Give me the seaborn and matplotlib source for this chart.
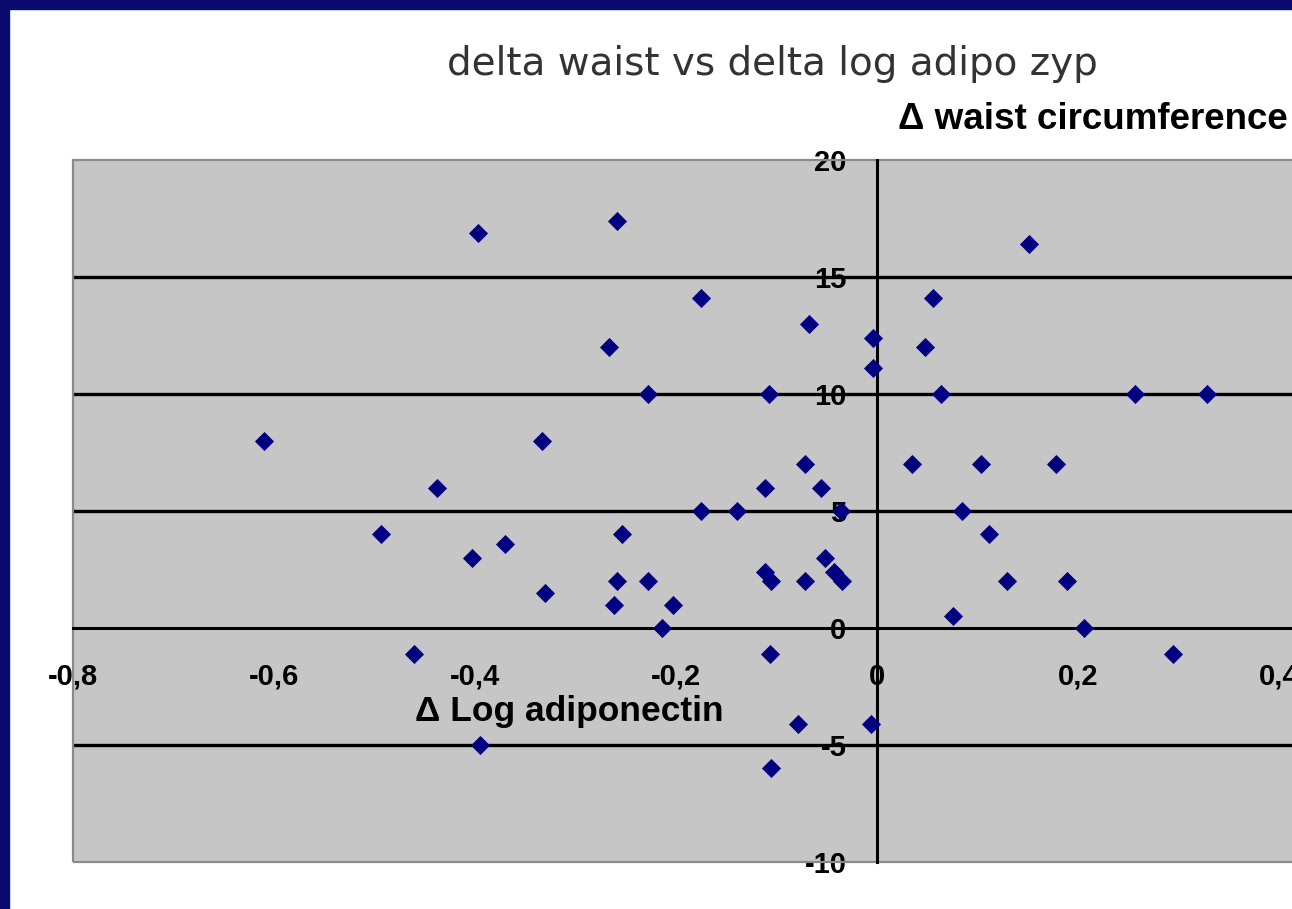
import matplotlib
matplotlib.use("Agg")
import matplotlib.pyplot as plt
from matplotlib.patches import Rectangle
import seaborn as sns

# delta log adiponectin (x) and delta waist circumference (y)
delta_log_adipo = [
    -0.61, -0.397, -0.259, 0.151, -0.175, 0.056, -0.068, -0.004, -0.267, 0.048,
    -0.004, -0.228, -0.107, 0.064, 0.257, 0.328, -0.333, -0.072, 0.035, 0.103,
    0.178, -0.438, -0.111, -0.056, -0.175, -0.139, -0.036, 0.085, -0.494, -0.254,
    0.111, -0.37, -0.403, -0.052, -0.043, -0.035, -0.33, -0.259, -0.228, -0.111,
    -0.105, -0.072, 0.129, 0.189, -0.262, -0.203, 0.076, -0.214, 0.206, -0.461,
    -0.106, 0.295, -0.079, -0.006, -0.395, -0.105,
]
delta_waist = [
    8.0, 16.9, 17.4, 16.4, 14.1, 14.1, 13.0, 12.4, 12.0, 12.0,
    11.1, 10.0, 10.0, 10.0, 10.0, 10.0, 8.0, 7.0, 7.0, 7.0,
    7.0, 6.0, 6.0, 6.0, 5.0, 5.0, 5.0, 5.0, 4.0, 4.0,
    4.0, 3.6, 3.0, 3.0, 2.4, 2.0, 1.5, 2.0, 2.0, 2.4,
    2.0, 2.0, 2.0, 2.0, 1.0, 1.0, 0.5, 0.0, 0.0, -1.1,
    -1.1, -1.1, -4.1, -4.1, -5.0, -6.0,
]

x_ticks = [-0.8, -0.6, -0.4, -0.2, 0.0, 0.2, 0.4, 0.6]
x_tick_labels = ["-0,8", "-0,6", "-0,4", "-0,2", "0", "0,2", "0,4", "0,6"]
y_ticks = [-10, -5, 0, 5, 10, 15, 20]
y_tick_labels = ["-10", "-5", "0", "5", "10", "15", "20"]

title = "delta waist vs delta log adipo zyp"
y_label = "\u0394 waist circumference"
x_label = "\u0394 Log adiponectin"

W, H = 1292, 909
sns.set_style("white")
plt.rcParams["font.family"] = ["Liberation Sans", "DejaVu Sans"]

fig = plt.figure(figsize=(W / 100, H / 100), dpi=100)
fig.patch.set_facecolor("white")

# plot area runs off the right side of the picture
left, top, bottom = 73, 160, 862
ax = fig.add_axes([left / W, (H - bottom) / H, 1407 / W, (bottom - top) / H])
ax.set_facecolor("#c6c6c6")
ax.set_xlim(-0.8, 0.6)
ax.set_ylim(-10, 20)

for v in y_ticks[1:-1]:
    if v != 0:
        ax.axhline(v, color="black", lw=2.4, zorder=1)

sns.scatterplot(x=delta_log_adipo, y=delta_waist, marker="D", color="#000080",
                s=95, linewidth=0, ax=ax, zorder=3)

for side in ["top", "right"]:
    ax.spines[side].set_visible(False)
for side in ["left", "bottom"]:
    ax.spines[side].set_position(("data", 0))
    ax.spines[side].set_color("black")
    ax.spines[side].set_linewidth(2.2)
    ax.spines[side].set_zorder(2)
ax.add_patch(Rectangle((0, 0), 1, 1, transform=ax.transAxes, fill=False,
                       edgecolor="#8a8a8a", lw=1.6, zorder=2, clip_on=False))

ax.set_xticks(x_ticks)
ax.set_xticklabels(x_tick_labels)
ax.set_yticks(y_ticks)
ax.set_yticklabels(y_tick_labels)
ax.tick_params(axis="x", direction="out", length=6, width=1.5, pad=19,
               labelsize=21, colors="black")
ax.tick_params(axis="y", direction="out", length=9, width=1.5, pad=13,
               labelsize=21, colors="black")
for lab in ax.get_xticklabels() + ax.get_yticklabels():
    lab.set_fontweight("bold")
    lab.set_zorder(4)

fig.text(772 / W, 1 - 75 / H, title, ha="center", va="baseline",
         fontsize=28, color="#333333", family=["DejaVu Sans"])
fig.text(898 / W, 1 - 129 / H, y_label, ha="left", va="baseline",
         fontsize=26.5, fontweight="bold", color="black")
fig.text(415 / W, 1 - 721 / H, x_label, ha="left", va="baseline",
         fontsize=25.5, fontweight="bold", color="black")

# dark navy frame on left and top
fig.patches.append(Rectangle((0, 0), 9 / W, 1, transform=fig.transFigure,
                             color="#0b0b6e", zorder=10))
fig.patches.append(Rectangle((0, 1 - 9 / H), 1, 9 / H, transform=fig.transFigure,
                             color="#0b0b6e", zorder=10))

fig.savefig("out.png", dpi=100)
